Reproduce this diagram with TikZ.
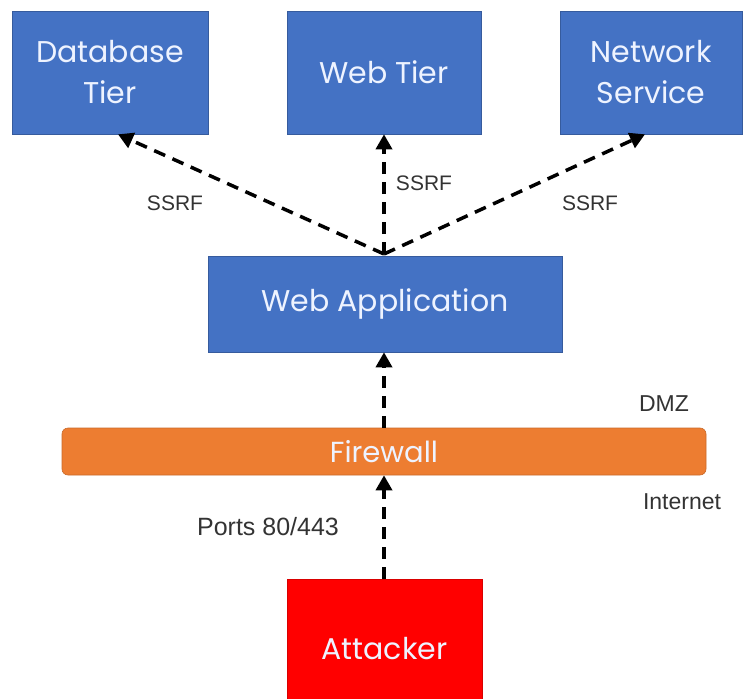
\documentclass[tikz,border=0pt]{standalone}
\usepackage{fontspec}
\setmainfont{Poppins}
\newfontfamily\lblfont{Liberation Sans}
\usetikzlibrary{arrows.meta}
\definecolor{boxblue}{HTML}{4472C4}
\definecolor{fworange}{HTML}{ED7D31}
\definecolor{atkred}{HTML}{FF0000}
\definecolor{boxtext}{HTML}{EEF3FF}
\definecolor{lbltext}{HTML}{333333}
\begin{document}
\begin{tikzpicture}[x=1pt,y=-1pt,
  bluebox/.style={fill=boxblue,draw=boxblue!80!black,line width=0.6pt,text=boxtext,align=center,font=\fontsize{30}{41}\selectfont,inner sep=0pt},
  attack/.style={-{Triangle[length=15pt,width=16pt]},dashed,dash pattern=on 12pt off 8pt,line width=3.5pt,black},
  lbl/.style={text=lbltext,inner sep=0pt}]
\useasboundingbox (0,0) rectangle (748,699);
\node[bluebox,minimum width=196pt,minimum height=123pt] (db) at (110,72.5) {Database\\Tier};
\node[bluebox,minimum width=194pt,minimum height=123pt] (web) at (384,72.5) {Web Tier};
\node[bluebox,minimum width=182pt,minimum height=123pt] (net) at (651,72.5) {Network\\Service};
\node[bluebox,minimum width=354pt,minimum height=96pt] (app) at (385,304) {Web Application};
\node[fill=fworange,draw=fworange!85!black,line width=0.6pt,rounded corners=6pt,minimum width=644pt,minimum height=47pt,text=boxtext,font=\fontsize{29}{34}\selectfont,inner sep=0pt] (fw) at (384,451.5) {Firewall};
\node[fill=atkred,draw=atkred!85!black,line width=0.6pt,minimum width=195pt,minimum height=140pt,text=boxtext,font=\fontsize{30}{36}\selectfont,inner sep=0pt] (atk) at (384.5,649) {Attacker};
\coordinate (hub) at (384,254);
\draw[attack] (hub) -- (db.south -| 118,0);
\draw[attack] (hub) -- (web.south);
\draw[attack] (hub) -- (net.south -| 645,0);
\draw[attack] (fw.north -| 384,0) -- (app.south -| 384,0);
\draw[attack] (atk.north -| 384,0) -- (fw.south -| 384,0);
\node[lbl,font=\lblfont\fontsize{21}{24}\selectfont] (s1) at (175,203) {SSRF};
\node[lbl,font=\lblfont\fontsize{21}{24}\selectfont] (s2) at (424,183) {SSRF};
\node[lbl,font=\lblfont\fontsize{21}{24}\selectfont] (s3) at (590,203) {SSRF};
\node[lbl,font=\lblfont\fontsize{23}{26}\selectfont] (dmz) at (664,404) {DMZ};
\node[lbl,font=\lblfont\fontsize{23}{26}\selectfont] (inet) at (682,502) {Internet};
\node[lbl,font=\lblfont\fontsize{25}{28}\selectfont] (ports) at (268,527) {Ports 80/443};
\end{tikzpicture}
\end{document}
